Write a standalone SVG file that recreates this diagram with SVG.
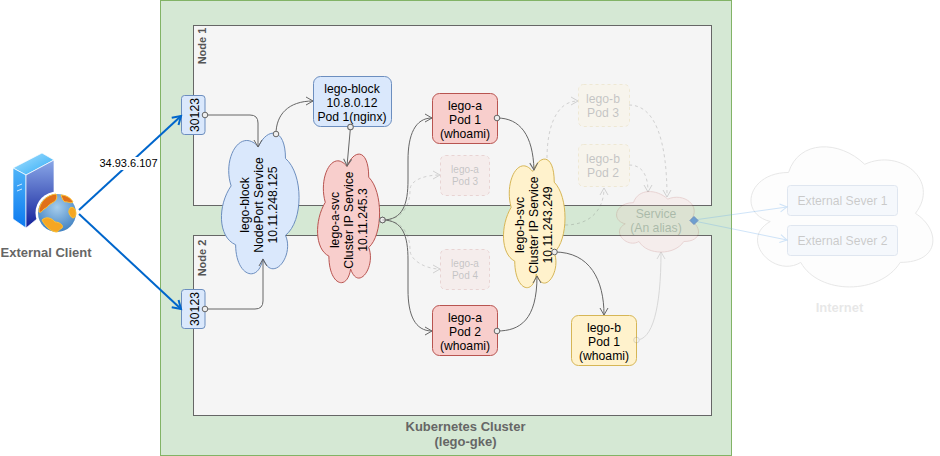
<svg xmlns="http://www.w3.org/2000/svg" width="940" height="456" viewBox="0 0 940 456">
<style>
text{font-family:"Liberation Sans",Arial,sans-serif;font-size:12.2px;fill:#000;text-anchor:middle}
.b{font-weight:bold;font-size:13px}
.lt{fill:#666}
.c{fill:none;stroke:#666;stroke-width:1;marker-end:url(#arr)}
.o{marker-start:url(#oval)}
.f{fill:none;stroke:#666;stroke-width:1;stroke-dasharray:3 3;opacity:.25;marker-end:url(#arr)}
.blue{fill:#dae8fc;stroke:#6c8ebf}
.red{fill:#f8cecc;stroke:#b85450}
.yel{fill:#fff2cc;stroke:#d6b656}
.fade{opacity:.2}
</style>
<defs>
<path id="cl" vector-effect="non-scaling-stroke" d="M.25 .25C.05 .25 0 .5 .16 .55C0 .66 .18 .9 .31 .8C.4 1 .7 1 .8 .8C1 .8 1 .6 .875 .5C1 .3 .8 .1 .625 .2C.5 .05 .3 .05 .25 .25Z"/>
<marker id="arr" markerUnits="userSpaceOnUse" markerWidth="12" markerHeight="12" refX="8" refY="6" orient="auto" overflow="visible"><path d="M1 2L8 6L1 10" fill="none" stroke="#666"/></marker>
<marker id="arrb" markerUnits="userSpaceOnUse" markerWidth="14" markerHeight="14" refX="10" refY="7" orient="auto" overflow="visible"><path d="M2 2L10 7L2 12" fill="none" stroke="#0066cc" stroke-width="2"/></marker>
<marker id="arrl" markerUnits="userSpaceOnUse" markerWidth="12" markerHeight="12" refX="8" refY="6" orient="auto" overflow="visible"><path d="M1 2L8 6L1 10" fill="none" stroke="#66aaee"/></marker>
<marker id="oval" markerUnits="userSpaceOnUse" markerWidth="10" markerHeight="10" refX="5" refY="5" orient="auto" overflow="visible"><circle cx="5" cy="5" r="2.8" fill="#eee" stroke="#666"/></marker>
<linearGradient id="front" x1="0" y1="0" x2="0" y2="1"><stop offset="0" stop-color="#8aa8e8"/><stop offset="1" stop-color="#12209a"/></linearGradient>
<linearGradient id="side" x1="0" y1="0" x2="0" y2="1"><stop offset="0" stop-color="#4fb4f8"/><stop offset="1" stop-color="#0a78f0"/></linearGradient>
<linearGradient id="top" x1="0" y1="0" x2="1" y2="1"><stop offset="0" stop-color="#aee4ff"/><stop offset="1" stop-color="#2aa8f5"/></linearGradient>
<radialGradient id="globe" cx=".5" cy=".35" r=".7"><stop offset="0" stop-color="#a6cdec"/><stop offset="1" stop-color="#3b7dbf"/></radialGradient>
</defs>

<g id="cluster"><rect x="160.5" y="0.5" width="571" height="455" fill="#d5e8d4" stroke="#82b366"/>
<text class="b lt" x="465.500" y="431">Kubernetes Cluster</text><text class="b lt" x="465.500" y="446">(lego-gke)</text></g>
<g id="node1"><rect x="193.5" y="25.5" width="518" height="180" fill="#f5f5f5" stroke="#666"/>
<text class="b" style="font-size:11px;fill:#555" transform="translate(206,46) rotate(-90)">Node 1</text></g>
<g id="node2"><rect x="193.5" y="235.5" width="518" height="180" fill="#f5f5f5" stroke="#666"/>
<text class="b" style="font-size:11px;fill:#555" transform="translate(206,258) rotate(-90)">Node 2</text></g>

<g id="client">
<polygon points="13,168 42,153 54,160 26,175" fill="url(#top)" stroke="#fff" stroke-width=".7"/>
<polygon points="13,168 26,175 26,228 13,219" fill="url(#side)" stroke="#fff" stroke-width=".7"/>
<polygon points="26,175 54,160 54,205 26,228" fill="url(#front)" stroke="#fff" stroke-width=".7"/>
<path d="M17 186L22 184M17 191L22 189" stroke="#cfe8ff" stroke-width="1"/>
<circle cx="57" cy="213" r="21.5" fill="#fff"/>
<circle cx="57" cy="213" r="19" fill="url(#globe)"/>
<path d="M39 212C39 202 47 195 56 194C58 198 56 201 52 203C48 205 47 208 44 209C42 211 41 213 39 212ZM61 195C66 195 71 198 73 202C70 204 67 201 65 202C63 201 62 198 61 195Z" fill="#e0701a" stroke="#ffc233"/>
<path d="M42 220C46 216 52 218 55 222C59 222 64 225 62 228C58 230 59 232 56 232C50 231 45 226 42 220ZM70 208C73 206 76 209 76 214C75 219 72 219 70 215C68 212 69 210 70 208Z" fill="#f5a623" stroke="#ffc233"/>
<text class="b lt" x="46" y="257">External Client</text></g>

<g id="port-top"><rect x="181.500" y="95.500" width="23.500" height="39" rx="3" class="blue"/><text transform="translate(199,115) rotate(-90)">30123</text></g>
<g id="port-bottom"><rect x="181.500" y="289.500" width="23.500" height="39" rx="3" class="blue"/><text transform="translate(199,309) rotate(-90)">30123</text></g>

<g id="block-svc"><use href="#cl" class="blue" transform="matrix(0 -157 90.6 0 213 284)"/>
<text transform="translate(249,205) rotate(-90)">lego-block</text><text transform="translate(263,205) rotate(-90)">NodePort Service</text><text transform="translate(277,205) rotate(-90)">10.11.248.125</text></g>
<g id="a-svc"><use href="#cl" class="red" transform="matrix(0 -143.500 72.400 0 310.800 292)"/>
<text transform="translate(339,220) rotate(-90)">lego-a-svc</text><text transform="translate(353,220) rotate(-90)">Cluster IP Service</text><text transform="translate(367,220) rotate(-90)">10.11.245.3</text></g>
<g id="b-svc"><use href="#cl" class="yel" transform="matrix(0 -143.500 71.800 0 496.800 297)"/>
<text transform="translate(524,225) rotate(-90)">lego-b-svc</text><text transform="translate(538,225) rotate(-90)">Cluster IP Service</text><text transform="translate(552,225) rotate(-90)">10.11.243.249</text></g>

<g id="block-pod"><rect x="313.500" y="76.500" width="78" height="50" rx="7" class="blue"/><text x="352" y="93">lego-block</text><text x="352" y="107">10.8.0.12</text><text x="352" y="121">Pod 1(nginx)</text></g>
<g id="a-pod1"><rect x="432.500" y="93.500" width="65" height="50" rx="7" class="red"/><text x="465" y="110">lego-a</text><text x="465" y="124">Pod 1</text><text x="465" y="138">(whoami)</text></g>
<g id="a-pod2"><rect x="432.500" y="305.500" width="65" height="50" rx="7" class="red"/><text x="465" y="322">lego-a</text><text x="465" y="336">Pod 2</text><text x="465" y="350">(whoami)</text></g>
<g id="b-pod1"><rect x="571.500" y="315.500" width="65" height="50" rx="7" class="yel"/><text x="604" y="332">lego-b</text><text x="604" y="346">Pod 1</text><text x="604" y="360">(whoami)</text></g>

<g id="a-pod3" class="fade"><rect x="440.500" y="155.500" width="49" height="40" rx="5" class="red" stroke-dasharray="3 3"/><text style="font-size:10px" x="465" y="173">lego-a</text><text style="font-size:10px" x="465" y="185">Pod 3</text></g>
<g id="a-pod4" class="fade"><rect x="440.500" y="249.500" width="49" height="40" rx="5" class="red" stroke-dasharray="3 3"/><text style="font-size:10px" x="465" y="267">lego-a</text><text style="font-size:10px" x="465" y="279">Pod 4</text></g>
<g id="b-pod3" class="fade"><rect x="578.500" y="84.500" width="51" height="42" rx="5" class="yel" stroke-dasharray="3 3"/><text x="603" y="103">lego-b</text><text x="603" y="117">Pod 3</text></g>
<g id="b-pod2" class="fade"><rect x="578.500" y="144.500" width="51" height="42" rx="5" class="yel" stroke-dasharray="3 3"/><text x="603" y="163">lego-b</text><text x="603" y="177">Pod 2</text></g>

<g id="alias" class="fade"><use href="#cl" class="red" transform="matrix(91.500 0 0 70.600 610.600 185)"/><text x="656" y="218">Service</text><text x="656" y="232">(An alias)</text></g>

<g id="internet" style="opacity:.15"><use href="#cl" fill="#f5f5f5" stroke="#666" transform="matrix(203 0 0 163.500 737.800 131.600)"/><text class="b lt" x="839.500" y="312">Internet</text></g>
<g id="server1" style="opacity:.2"><rect x="787.500" y="185.500" width="110" height="30" rx="3" fill="#dae8fc" stroke="#6c8ebf"/><text x="842.500" y="205">External Sever 1</text></g>
<g id="server2" style="opacity:.2"><rect x="787.500" y="225.500" width="110" height="30" rx="3" fill="#dae8fc" stroke="#6c8ebf"/><text x="842.500" y="245">External Sever 2</text></g>

<g id="connectors">
<path d="M79 210L181 116" fill="none" stroke="#0066cc" stroke-width="2" marker-end="url(#arrb)"/>
<path d="M79 214L181 309" fill="none" stroke="#0066cc" stroke-width="2" marker-end="url(#arrb)"/>
<rect x="99" y="157" width="58" height="13" fill="#fff"/><text style="font-size:11px" x="128.500" y="167">34.93.6.107</text>
<path class="c o" d="M205 115H250Q258 115 258 123V147"/>
<path class="c o" d="M205 309H255Q263 309 263 301V259"/>
<path class="c o" d="M276 134C276 115 288 101 313 101"/>
<path class="c o" d="M350.500 127L347 166"/>
<path class="c o" d="M382.500 220C403 220 408 204 408 180V160C408 135 415 118 432 118"/>
<path class="c o" d="M382.500 220C403 220 408 236 408 260V290C408 315 415 331 432 331"/>
<path class="f" d="M382.500 220C403 220 410 205 410 190C410 180 425 175 440 175"/>
<path class="f" d="M382.500 220C403 220 410 235 410 250C410 260 425 269 440 269"/>
<path class="c o" d="M497 118C520 118 533 135 534 170"/>
<path class="c o" d="M497 331C520 331 537 320 537 276"/>
<path class="c o" d="M554.500 252C590 252 604 280 604 315"/>
<path class="f" d="M547 158C547 130 555 101 578 101"/>
<path class="f" d="M565 225C590 225 604 210 604 188"/>
<path class="f" d="M629 105C655 105 667 140 667 197"/>
<path class="f" d="M629 165C640 165 648 172 648 192"/>
<g opacity=".2"><path class="c o" d="M636.500 340C652 340 661 310 661 252"/></g>
<g opacity=".3">
<path d="M694 220L787 207" fill="none" stroke="#66aaee" marker-end="url(#arrl)"/>
<path d="M694 221L787 240" fill="none" stroke="#66aaee" marker-end="url(#arrl)"/></g>
<path d="M690 220.500L694 216.500L698 220.500L694 224.500Z" fill="#6d9fd0" stroke="#6c8ebf"/>
</g>
</svg>
